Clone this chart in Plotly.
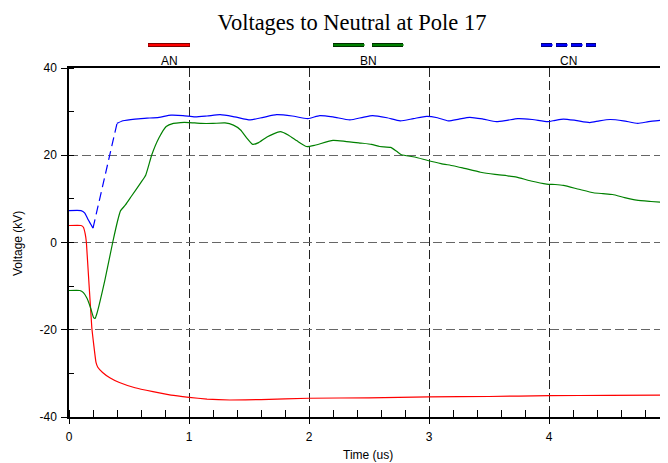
import numpy as np
import plotly.graph_objects as go

# ---------------- data ----------------
t_an = [0, 0.10, 0.12, 0.135, 0.145, 0.19, 0.225, 0.24, 0.28, 0.34, 0.42, 0.55, 0.70, 0.85,
        1.00, 1.15, 1.34, 1.60, 2.00, 2.50, 3.00, 3.50, 4.00, 4.50, 5.00]
v_an = [3.9, 3.9, 3.5, 2.0, 0.0, -19.5, -27.5, -28.6, -29.8, -31.0, -32.1, -33.3, -34.2, -35.0,
        -35.5, -35.9, -36.1, -36.0, -35.7, -35.6, -35.4, -35.3, -35.1, -35.05, -35.0]

t_bn = [0, 0.09, 0.12, 0.15, 0.18, 0.205, 0.217, 0.23, 0.30, 0.364, 0.41, 0.43, 0.47, 0.52,
        0.60, 0.64, 0.69, 0.75, 0.81, 0.87, 0.93, 1.00, 1.10, 1.20, 1.30, 1.37, 1.43, 1.48,
        1.53, 1.58, 1.65, 1.76, 1.83, 1.90, 1.98, 2.05, 2.20, 2.30, 2.43, 2.52, 2.59, 2.68,
        2.73, 2.77, 2.88, 2.99, 3.10, 3.20, 3.28, 3.43, 3.55, 3.65, 3.73, 3.85, 3.98, 4.05,
        4.12, 4.25, 4.37, 4.45, 4.53, 4.63, 4.73, 4.85, 5.00]
v_bn = [-11.0, -11.0, -11.5, -12.8, -15.0, -17.2, -17.4, -16.5, -8.5, 0.0, 5.5, 7.3, 8.6, 10.6,
        13.8, 15.5, 20.1, 24.0, 26.6, 27.3, 27.5, 27.5, 27.3, 27.3, 27.4, 26.9, 25.8, 24.0,
        22.5, 22.9, 24.2, 25.4, 24.6, 23.3, 22.0, 22.3, 23.4, 23.2, 22.8, 22.5, 22.0, 21.8,
        20.9, 20.1, 19.6, 18.8, 18.1, 17.6, 17.1, 16.1, 15.6, 15.3, 15.0, 14.1, 13.4, 13.3,
        13.1, 12.2, 11.4, 11.2, 11.0, 10.3, 9.7, 9.4, 9.1]

t_cn = [0, 0.10, 0.13, 0.16, 0.20, 0.30, 0.40, 0.45, 0.55, 0.65, 0.75, 0.85, 0.95, 1.05,
        1.15, 1.26, 1.38, 1.51, 1.62, 1.73, 1.86, 1.99, 2.09, 2.20, 2.34, 2.45, 2.53, 2.65,
        2.76, 2.87, 2.98, 3.07, 3.16, 3.25, 3.34, 3.45, 3.56, 3.65, 3.74, 3.86, 3.99, 4.05,
        4.12, 4.22, 4.34, 4.42, 4.51, 4.62, 4.74, 4.83, 4.93, 5.00]
v_cn = [7.3, 7.3, 6.8, 5.2, 3.3, 15.3, 27.3, 27.9, 28.3, 28.5, 28.7, 29.2, 29.1, 28.8,
        29.0, 29.3, 28.8, 28.1, 28.7, 29.3, 29.0, 28.4, 29.1, 28.8, 28.1, 28.7, 29.1, 28.6,
        27.9, 28.4, 28.9, 28.6, 27.9, 28.3, 28.7, 28.3, 27.7, 28.0, 28.4, 28.2, 27.7, 28.0,
        28.3, 28.0, 27.5, 27.9, 28.2, 27.9, 27.3, 27.7, 28.0, 27.9]
cn_dash_span = (0.20, 0.40)   # portion drawn dashed

series_names = ["AN", "BN", "CN"]
series_colors = ["#ff0000", "#008000", "#0000ff"]

x_ticks = [0, 1, 2, 3, 4, 5]
y_ticks = [-40, -20, 0, 20, 40]

title_text = "Voltages to Neutral at Pole 17"
x_title = "Time (us)"
y_title = "Voltage (kV)"

# ---------------- layout geometry ----------------
# The page body has an 8px default margin, so the figure is made 8px smaller
# and every window-pixel position below is converted by subtracting 8.
OFF = 8
W, H = 668 - OFF, 463 - OFF
L = 69 - OFF               # plot left edge (window x=69)
T = 68 - OFF               # plot top (window y=68)
B = H - (417 - OFF)        # plot bottom (window y=417)
PW = W - L                 # 599 px
PH = H - T - B
x_max = 5.0 * PW / 600.0   # 120 px per us; x=5 falls at the window edge

def px_x(p):
    """window pixel x -> paper fraction"""
    return (p - OFF - L) / PW

def px_y(p):
    """window pixel y -> paper fraction"""
    return (H - B - (p - OFF)) / PH

fig = go.Figure()

fig.add_trace(go.Scatter(x=t_an, y=v_an, mode="lines",
                         line=dict(color=series_colors[0], width=1.2, shape="spline",
                                   smoothing=0.3), name="AN"))
fig.add_trace(go.Scatter(x=t_bn, y=v_bn, mode="lines",
                         line=dict(color=series_colors[1], width=1.2, shape="spline",
                                   smoothing=0.5), name="BN"))

tc = np.array(t_cn)
vc = np.array(v_cn, dtype=float)
solid = np.where((tc > cn_dash_span[0]) & (tc < cn_dash_span[1]), np.nan, vc)
dmask = (tc >= cn_dash_span[0]) & (tc <= cn_dash_span[1])
fig.add_trace(go.Scatter(x=tc, y=solid, mode="lines", connectgaps=False,
                         line=dict(color=series_colors[2], width=1.2, shape="spline",
                                   smoothing=0.6), name="CN"))
fig.add_trace(go.Scatter(x=tc[dmask], y=vc[dmask], mode="lines",
                         line=dict(color=series_colors[2], width=1.2, dash="9px,5px"),
                         name="CN", showlegend=False))

font_sans = "Liberation Sans, Arial, sans-serif"

fig.update_layout(
    width=W, height=H,
    margin=dict(l=L, r=0, t=T, b=B, pad=0, autoexpand=False),
    paper_bgcolor="white", plot_bgcolor="white",
    showlegend=False,
    font=dict(family=font_sans, size=12, color="black"),
    title=dict(text=title_text, x=(352 - OFF) / W, xref="container", xanchor="center",
               y=(H - (22 - OFF)) / H, yref="container", yanchor="middle",
               font=dict(family="Liberation Serif, Times New Roman, serif", size=22.5,
                         color="black")),
)

fig.update_xaxes(
    range=[0, x_max], tickvals=x_ticks, ticktext=[str(v) for v in x_ticks],
    ticks="outside", ticklen=5, tickwidth=1, tickcolor="black",
    showline=True, linecolor="black", linewidth=1.5, mirror=True,
    showgrid=True, gridcolor="#222222", gridwidth=1, griddash="9px,4px",
    zeroline=False, ticklabelstandoff=3, automargin=False,
    tickfont=dict(size=12),
    minor=dict(dtick=0.2, ticks="inside", ticklen=7, tickcolor="black", tickwidth=1,
               showgrid=False),
)
fig.update_yaxes(
    range=[-40, 40], tickvals=y_ticks, ticktext=[str(v) for v in y_ticks],
    ticks="outside", ticklen=6, tickwidth=1, tickcolor="black",
    showline=True, linecolor="black", linewidth=1.5, mirror=True,
    showgrid=True, gridcolor="#666666", gridwidth=1, griddash="9px,4px",
    zeroline=False, ticklabelstandoff=2, automargin=False,
    tickfont=dict(size=12),
    minor=dict(dtick=10, ticks="inside", ticklen=5, tickcolor="black", tickwidth=1,
               showgrid=False),
)

# axis titles
fig.add_annotation(x=px_x(368), y=px_y(455), xref="paper", yref="paper", text=x_title,
                   showarrow=False, xanchor="center", yanchor="middle",
                   font=dict(size=12, family=font_sans))
fig.add_annotation(x=px_x(18), y=px_y(243), xref="paper", yref="paper", text=y_title,
                   showarrow=False, xanchor="center", yanchor="middle", textangle=-90,
                   font=dict(size=12, family=font_sans))

# x=5 label, partly cut off at the window edge as in the reference
fig.add_annotation(x=px_x(668), y=px_y(437), xref="paper", yref="paper", text="5",
                   showarrow=False, xanchor="center", yanchor="middle",
                   font=dict(size=12, family=font_sans))

# custom legend: sample line above the label
legend_items = [
    (series_names[0], series_colors[0], "#800000", 148, 190, "solid", 169),
    (series_names[1], series_colors[1], "#003000", 333, 404, "31px,8px", 368),
    (series_names[2], series_colors[2], "#000080", 541, 596, "11px,4px", 568),
]
for name, col, dark, x0, x1, dash, xc in legend_items:
    fig.add_shape(type="line", xref="paper", yref="paper",
                  x0=px_x(x0), x1=px_x(x1), y0=px_y(45), y1=px_y(45),
                  line=dict(color=dark, width=4, dash=dash))
    fig.add_shape(type="line", xref="paper", yref="paper",
                  x0=px_x(x0 + 0.5), x1=px_x(x1 - 0.5), y0=px_y(45), y1=px_y(45),
                  line=dict(color=col, width=2, dash=dash))
    fig.add_annotation(x=px_x(xc), y=px_y(61), xref="paper", yref="paper", text=name,
                       showarrow=False, xanchor="center", yanchor="middle",
                       font=dict(size=12, family=font_sans))

fig.write_html("out.html")
